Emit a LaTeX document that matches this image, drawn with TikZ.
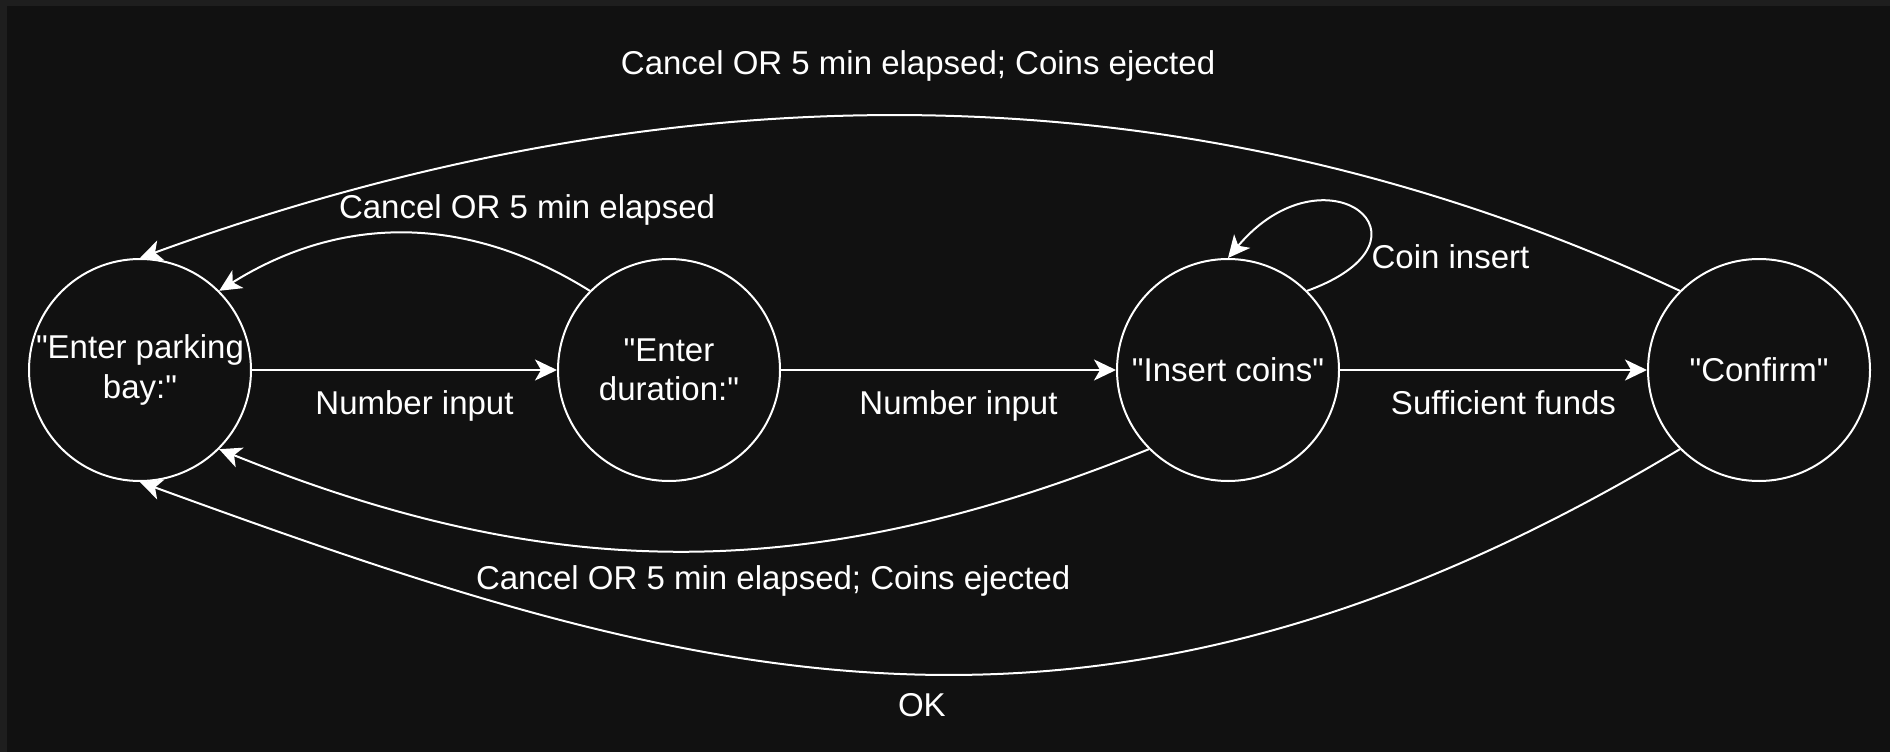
\documentclass[tikz,border=0pt]{standalone}
\usepackage{fontspec}
\setmainfont{Liberation Sans}[Ligatures=TeXOff]
\usepackage{tikz}
\usetikzlibrary{positioning,arrows.meta}
\definecolor{bgdark}{HTML}{111111}
\definecolor{bgframe}{HTML}{1E1E1E}
\tikzset{
     state/.style={circle, draw=white, line width=1pt, text=white, minimum size=111pt,
                   inner sep=0pt, align=center, font=\fontsize{16.5}{19.8}\selectfont},
     arrow/.style={draw=white, line width=1pt, -{Stealth[length=11pt, width=10.5pt, inset=3pt]}},
     lbl/.style={text=white, inner sep=0pt, font=\fontsize{16.5}{19.8}\selectfont}
     }

\begin{document}
\begin{tikzpicture}
    \fill [bgframe] (0,0) rectangle (945pt,376pt);
    \fill [bgdark] (3.5pt,0) rectangle (945pt,373pt);
    \useasboundingbox (0,0) rectangle (945pt,376pt);

    \node [state] (bay) at (70pt,191pt) {"Enter parking\\bay:"};
    \node [state, right=152.5pt of bay] (dur) {"Enter\\duration:"};
    \node [state, right=167.5pt of dur] (coins) {"Insert coins"};
    \node [state, right=153.5pt of coins] (confirm) {"Confirm"};

    \draw [arrow] (bay) -- node [lbl, below=10pt, xshift=5pt] {Number input} (dur);
    \draw [arrow] (dur) -- node [lbl, below=10pt, xshift=5pt] {Number input} (coins);
    \draw [arrow] (coins) -- node [lbl, below=10pt, xshift=5pt] {Sufficient funds} (confirm);

    \draw [arrow] (coins.45) to [out=20, in=50, looseness=4.5] node [lbl, pos=0.2, right=4pt] {Coin insert} (coins.90);

    \draw [arrow] (dur.135) to [bend right=32] node [lbl, pos=0.17, above=16pt] {Cancel OR 5 min elapsed} (bay.45);
    \draw [arrow] (confirm.135) to [out=155, in=20, out looseness=1.05, in looseness=0.75] node [lbl, above=17pt, xshift=32pt] {Cancel OR 5 min elapsed; Coins ejected} (bay.90);
    \draw [arrow] (coins.225) to [bend left=22] node [lbl, pos=0.4, below=9pt] {Cancel OR 5 min elapsed; Coins ejected} (bay.315);
    \draw [arrow] (confirm.225) to [out=211, in=340, out looseness=1.15, in looseness=0.95] node [lbl, below=10pt, xshift=16.5pt] {OK} (bay.270);

\end{tikzpicture}
\end{document}
